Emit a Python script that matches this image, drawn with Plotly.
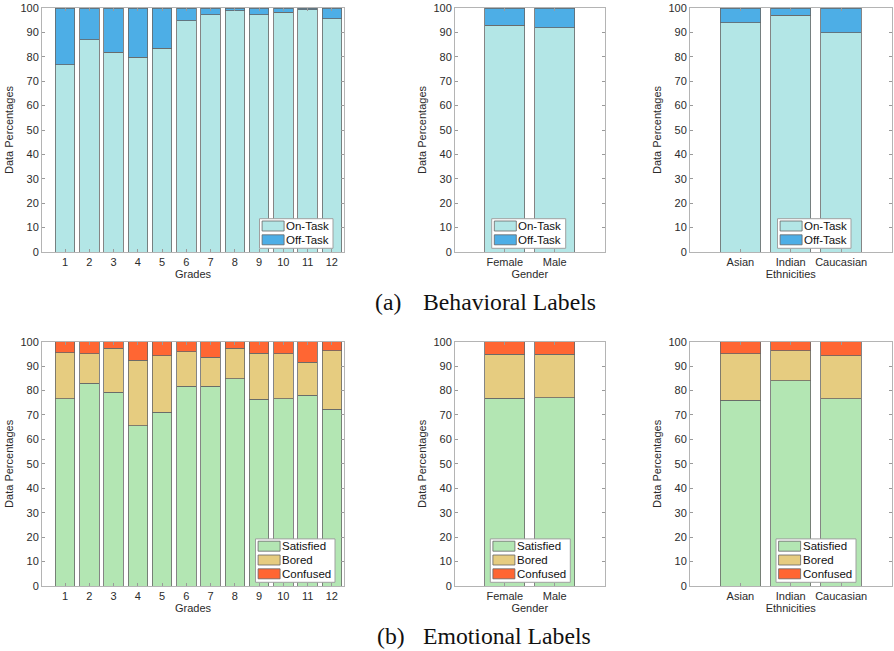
import plotly.graph_objects as go

# ---------------- data ----------------
grades = list(range(1, 13))
grade_labels = [str(g) for g in grades]
genders = ["Female", "Male"]
ethnicities = ["Asian", "Indian", "Caucasian"]

# Behavioral labels (percent)
on_task_grades = [76.7, 87.0, 81.9, 79.9, 83.6, 94.8, 97.3, 98.9, 97.3, 98.2, 99.3, 95.6]
on_task_gender = [92.9, 91.9]
on_task_ethnic = [93.9, 97.0, 89.8]

# Emotional labels (percent)
satisfied_grades = [76.7, 82.9, 79.3, 65.5, 71.1, 81.8, 81.8, 84.9, 76.5, 76.7, 78.1, 72.3]
bored_grades_cum = [95.4, 95.0, 97.4, 92.5, 94.3, 95.9, 93.6, 97.3, 95.3, 95.0, 91.5, 96.3]
satisfied_gender = [76.8, 77.0]
bored_gender_cum = [94.8, 94.8]
satisfied_ethnic = [76.1, 84.0, 76.6]
bored_ethnic_cum = [95.0, 96.3, 94.2]

def rest(a):
    return [round(100 - v, 2) for v in a]

def diff(a, b):
    return [round(bb - aa, 2) for aa, bb in zip(a, b)]

off_task_grades = rest(on_task_grades)
off_task_gender = rest(on_task_gender)
off_task_ethnic = rest(on_task_ethnic)
bored_grades = diff(satisfied_grades, bored_grades_cum)
confused_grades = rest(bored_grades_cum)
bored_gender = diff(satisfied_gender, bored_gender_cum)
confused_gender = rest(bored_gender_cum)
bored_ethnic = diff(satisfied_ethnic, bored_ethnic_cum)
confused_ethnic = rest(bored_ethnic_cum)

# ---------------- style ----------------
C_ON = "#b3e6e6"
C_OFF = "#4daee6"
C_SAT = "#b3e6b3"
C_BOR = "#e6cc80"
C_CON = "#ff6633"
EDGE_COL = "#666666"
EDGE = dict(color=EDGE_COL, width=0.8)
FONT = "Liberation Sans, Arial, Helvetica, sans-serif"
TXT = "#2b2b2b"
W, H = 894, 651

fig = go.Figure()

panels = [
    (1, grades, [("On-Task", on_task_grades, C_ON), ("Off-Task", off_task_grades, C_OFF)]),
    (2, [1, 2], [("On-Task", on_task_gender, C_ON), ("Off-Task", off_task_gender, C_OFF)]),
    (3, [1, 2, 3], [("On-Task", on_task_ethnic, C_ON), ("Off-Task", off_task_ethnic, C_OFF)]),
    (4, grades, [("Satisfied", satisfied_grades, C_SAT), ("Bored", bored_grades, C_BOR),
                 ("Confused", confused_grades, C_CON)]),
    (5, [1, 2], [("Satisfied", satisfied_gender, C_SAT), ("Bored", bored_gender, C_BOR),
                 ("Confused", confused_gender, C_CON)]),
    (6, [1, 2, 3], [("Satisfied", satisfied_ethnic, C_SAT), ("Bored", bored_ethnic, C_BOR),
                    ("Confused", confused_ethnic, C_CON)]),
]

for idx, xs, series in panels:
    sfx = "" if idx == 1 else str(idx)
    for name, vals, col in series:
        fig.add_trace(go.Bar(
            x=xs, y=vals, name=name, showlegend=False,
            marker=dict(color=col, line=EDGE),
            xaxis="x" + sfx, yaxis="y" + sfx,
        ))

def px_x(p):
    return p / W

def px_y(p):
    return 1 - p / H

top = (8, 252)
bot = (341.7, 586)
cols = [(42, 344), (455, 604.5), (690, 891.5)]

xranges = [[0.05, 12.5], [0, 3], [0, 4]]
xtickvals = [grades, [1, 2], [1, 2, 3]]
xticktext = [grade_labels, genders, ethnicities]
xtitles = ["Grades", "Gender", "Ethnicities"]

axis_common = dict(
    showline=True, linecolor="#b4b4b4", linewidth=1, mirror="allticks",
    ticks="inside", ticklen=3, tickcolor="#9a9a9a", tickwidth=1,
    showgrid=False, zeroline=False, automargin=False,
    tickfont=dict(family=FONT, size=11, color=TXT),
)

layout = dict(
    width=W, height=H, margin=dict(l=0, r=0, t=0, b=0, autoexpand=False),
    paper_bgcolor="white", plot_bgcolor="white",
    barmode="stack", bargap=0.2, showlegend=False,
    font=dict(family=FONT, size=11, color=TXT),
)

for r, (y0, y1) in enumerate([top, bot]):
    for c, (x0, x1) in enumerate(cols):
        idx = r * 3 + c + 1
        sfx = "" if idx == 1 else str(idx)
        layout["xaxis" + sfx] = dict(
            axis_common, domain=[px_x(x0), px_x(x1)], anchor="y" + sfx,
            range=xranges[c], tickvals=xtickvals[c], ticktext=xticktext[c],
            title=dict(text=xtitles[c], font=dict(family=FONT, size=11, color=TXT), standoff=1),
        )
        layout["yaxis" + sfx] = dict(
            axis_common, domain=[px_y(y1), px_y(y0)], anchor="x" + sfx,
            range=[0, 100], tickvals=list(range(0, 101, 10)),
            title=dict(text="Data Percentages", font=dict(family=FONT, size=11, color=TXT), standoff=4),
        )

# ---------------- manual MATLAB-style legends ----------------
shapes = []
annotations = []
legend_specs = [
    # (right px, bottom px, box width, entries)
    (333, 248.3, 73.5, [("On-Task", C_ON), ("Off-Task", C_OFF)]),
    (565.7, 248.3, 74, [("On-Task", C_ON), ("Off-Task", C_OFF)]),
    (851, 248.3, 73.5, [("On-Task", C_ON), ("Off-Task", C_OFF)]),
    (335, 582.3, 79.5, [("Satisfied", C_SAT), ("Bored", C_BOR), ("Confused", C_CON)]),
    (570.3, 582.3, 80, [("Satisfied", C_SAT), ("Bored", C_BOR), ("Confused", C_CON)]),
    (856, 582.3, 80, [("Satisfied", C_SAT), ("Bored", C_BOR), ("Confused", C_CON)]),
]
PITCH = 13.8
for rx, by, bw, entries in legend_specs:
    n = len(entries)
    bh = n * PITCH + 2
    lx, ty = rx - bw, by - bh
    shapes.append(dict(type="rect", xref="paper", yref="paper",
                       x0=px_x(lx), x1=px_x(rx), y0=px_y(by), y1=px_y(ty),
                       fillcolor="white", line=dict(color="#a0a0a0", width=1), layer="above"))
    for k, (name, col) in enumerate(entries):
        sy0 = ty + 2.3 + k * PITCH
        sy1 = sy0 + 10
        shapes.append(dict(type="rect", xref="paper", yref="paper",
                           x0=px_x(lx + 2.6), x1=px_x(lx + 24.6), y0=px_y(sy1), y1=px_y(sy0),
                           fillcolor=col, line=dict(color=EDGE_COL, width=0.8), layer="above"))
        annotations.append(dict(text=name, xref="paper", yref="paper",
                                x=px_x(lx + 25.5), y=px_y((sy0 + sy1) / 2),
                                xanchor="left", yanchor="middle", showarrow=False,
                                borderpad=0, font=dict(family=FONT, size=11.5, color="#111111")))

cap_font = dict(family="Liberation Serif, Times New Roman, serif", size=23.7, color="#111111")
for txt, xp, yp in [("(a)", 374, 302), ("Behavioral Labels", 421.7, 302),
                    ("(b)", 376, 636), ("Emotional Labels", 421.7, 636)]:
    annotations.append(dict(text=txt, x=px_x(xp), y=px_y(yp), xref="paper", yref="paper",
                            xanchor="left", yanchor="middle", showarrow=False,
                            borderpad=0, font=cap_font))

layout["shapes"] = shapes
layout["annotations"] = annotations

fig.update_layout(**layout)
fig.write_html(
    "out.html",
    config={"displayModeBar": False},
    post_script="document.body.style.margin='0';document.body.style.padding='0';"
                "document.body.style.overflow='hidden';",
)
